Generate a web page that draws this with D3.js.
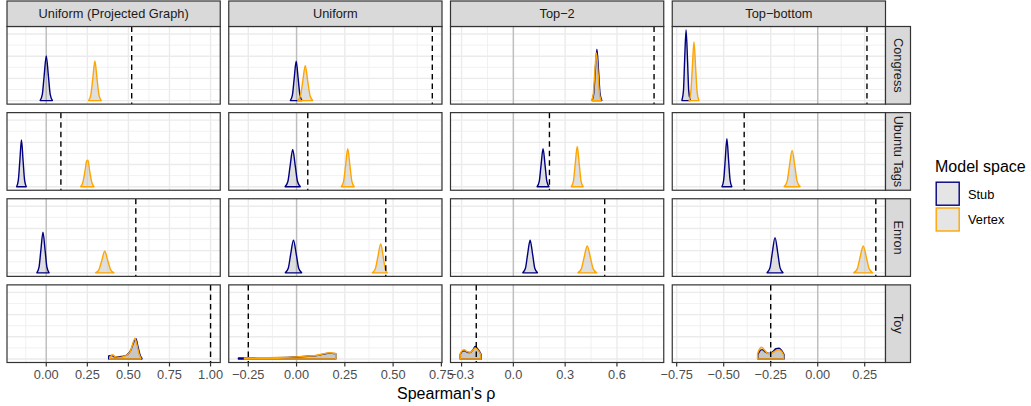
<!DOCTYPE html>
<html>
<head>
<meta charset="utf-8">
<script src="https://cdn.jsdelivr.net/npm/d3@7"></script>
<style>
  body { margin: 0; background: #fff; }
  svg text { font-family: "Liberation Sans", Arial, Helvetica, sans-serif; }
</style>
</head>
<body>
<div id="chart"></div>
<script>
// facet labels
var methods  = ["Uniform (Projected Graph)", "Uniform", "Top\u22122", "Top\u2212bottom"];
var datasets = ["Congress", "Ubuntu Tags", "Enron", "Toy"];
var models   = ["Stub", "Vertex"];

// observed value (dashed line), one row per dataset, one entry per method
var observed = [
  [0.52, 0.703, 0.815, 0.262],
  [0.089, 0.058, 0.209, -0.391],
  [0.545, 0.462, 0.529, 0.309],
  [1.0, -0.25, -0.215, -0.25]
];

// x ticks per method column
var xTicks = [
  [0, 0.25, 0.5, 0.75, 1],
  [-0.25, 0, 0.25, 0.5, 0.75],
  [-0.3, 0, 0.3, 0.6],
  [-0.75, -0.5, -0.25, 0, 0.25]
];
var xTickLabels = [
  ["0.00", "0.25", "0.50", "0.75", "1.00"],
  ["\u22120.25", "0.00", "0.25", "0.50", "0.75"],
  ["\u22120.3", "0.0", "0.3", "0.6"],
  ["\u22120.75", "\u22120.50", "\u22120.25", "0.00", "0.25"]
];
var yGrid = [0, 12.5, 25, 37.5, 50, 62.5, 75];

// density curves [rho, density], one list per method column
var congressStub = [
  [[-0.037,0.3],[-0.024,7],[-0.013,27.7],[0,50.3],[0.013,27.7],[0.024,7],[0.037,0.3]],
  [[-0.032,0.3],[-0.0215,6.2],[-0.0125,24.4],[-0.002,44.3],[0.0085,24.4],[0.0175,6.2],[0.028,0.3]],
  [[0.456,0.3],[0.466,8.1],[0.474,31.8],[0.484,57.9],[0.494,31.8],[0.502,8.1],[0.512,0.3]],
  [[-0.722,0.3],[-0.714,11.1],[-0.708,43.7],[-0.700,79.5],[-0.692,43.7],[-0.686,11.1],[-0.678,0.3]]
];
var congressVertex = [
  [[0.258,0.3],[0.271,6.2],[0.283,24.5],[0.296,44.6],[0.309,24.5],[0.321,6.2],[0.334,0.3]],
  [[0.007,0.3],[0.02,5.5],[0.032,21.7],[0.045,39.4],[0.058,21.7],[0.07,5.5],[0.083,0.3]],
  [[0.454,0.3],[0.463,7.6],[0.471,29.8],[0.481,54.1],[0.491,29.8],[0.499,7.6],[0.508,0.3]],
  [[-0.684,0.3],[-0.675,9.3],[-0.667,36.4],[-0.658,66.2],[-0.649,36.4],[-0.641,9.3],[-0.632,0.3]]
];
var ubuntuStub = [
  [[-0.180,0.3],[-0.170,7.4],[-0.161,29],[-0.151,52.7],[-0.141,29],[-0.132,7.4],[-0.122,0.3]],
  [[-0.059,0.3],[-0.045,5.9],[-0.0335,23.1],[-0.02,42],[-0.0065,23.1],[0.005,5.9],[0.019,0.3]],
  [[0.138,0.3],[0.15,6],[0.16,23.5],[0.172,42.8],[0.184,23.5],[0.194,6],[0.206,0.3]],
  [[-0.509,0.3],[-0.5,7.6],[-0.492,29.8],[-0.483,54.1],[-0.474,29.8],[-0.466,7.6],[-0.457,0.3]]
];
var ubuntuVertex = [
  [[0.21,0.3],[0.222,4.5],[0.236,18],[0.246,29],[0.254,30],[0.264,18],[0.278,4.5],[0.29,0.3]],
  [[0.232,0.3],[0.2435,6],[0.2535,23.5],[0.265,42.8],[0.2765,23.5],[0.2865,6],[0.298,0.3]],
  [[0.336,0.3],[0.348,6.4],[0.358,25],[0.370,45.4],[0.382,25],[0.392,6.4],[0.404,0.3]],
  [[-0.178,0.3],[-0.163,5.7],[-0.151,22.5],[-0.136,40.9],[-0.121,22.5],[-0.109,5.7],[-0.094,0.3]]
];
var enronStub = [
  [[-0.057,0.3],[-0.044,6.4],[-0.033,25.2],[-0.02,45.9],[-0.007,25.2],[0.004,6.4],[0.017,0.3]],
  [[-0.058,0.3],[-0.043,5.2],[-0.031,20.2],[-0.016,36.8],[-0.001,20.2],[0.011,5.2],[0.026,0.3]],
  [[0.055,0.3],[0.07,5.2],[0.082,20.2],[0.097,36.8],[0.112,20.2],[0.124,5.2],[0.139,0.3]],
  [[-0.269,0.3],[-0.254,5.6],[-0.242,21.8],[-0.227,39.7],[-0.212,21.8],[-0.2,5.6],[-0.185,0.3]]
];
var enronVertex = [
  [[0.301,0.3],[0.32,3.4],[0.337,13.4],[0.356,24.3],[0.375,13.4],[0.392,3.4],[0.411,0.3]],
  [[0.393,0.3],[0.408,4.6],[0.421,17.9],[0.436,32.6],[0.449,17.9],[0.459,4.6],[0.469,0.3]],
  [[0.374,0.3],[0.393,4.2],[0.409,16.7],[0.428,30.3],[0.447,16.7],[0.463,4.2],[0.482,0.3]],
  [[0.192,0.3],[0.2095,4.2],[0.2245,16.7],[0.242,30.3],[0.2595,16.7],[0.2745,4.2],[0.292,0.3]]
];
var toyStub = [
  [[0.380,3.4],[0.395,4.0],[0.41,2.8],[0.43,2.3],[0.46,2.8],[0.49,4.5],[0.515,10],[0.533,19],[0.546,22.7],[0.558,14],[0.572,4],[0.582,1]],
  [[-0.301,1.1],[-0.2,1.2],[-0.1,1.5],[0.0,2.3],[0.06,3.0],[0.1,3.6],[0.14,5.5],[0.17,6.6],[0.203,5.9]],
  [[-0.308,5],[-0.296,8.5],[-0.284,9.2],[-0.268,7.5],[-0.25,7.2],[-0.235,10],[-0.221,14],[-0.205,11],[-0.186,5]],
  [[-0.318,5],[-0.308,9],[-0.296,10.5],[-0.28,8],[-0.258,6.2],[-0.24,8],[-0.222,11.5],[-0.205,12.1],[-0.19,9],[-0.179,5]]
];
var toyVertex = [
  [[0.386,1.5],[0.403,4.8],[0.42,2.6],[0.45,1.8],[0.48,3.4],[0.51,8],[0.528,18],[0.54,23.5],[0.552,16],[0.566,5],[0.576,1]],
  [[-0.27,1.1],[-0.2,1.3],[-0.1,1.6],[0.0,2.4],[0.06,3.2],[0.1,3.9],[0.14,5.9],[0.168,7.0],[0.203,6.2]],
  [[-0.308,6],[-0.296,9.6],[-0.285,10.4],[-0.268,8.2],[-0.25,7.5],[-0.235,9.5],[-0.222,12.5],[-0.205,10],[-0.188,5]],
  [[-0.32,6],[-0.31,11],[-0.298,13.3],[-0.283,10],[-0.262,6],[-0.24,7],[-0.222,9.5],[-0.205,10.2],[-0.19,8],[-0.181,4]]
];

var stubRows   = [congressStub, ubuntuStub, enronStub, toyStub];
var vertexRows = [congressVertex, ubuntuVertex, enronVertex, toyVertex];

// ---- layout ----  (note: "top" is taken by window.top, so prefix everything)
var W = 1031, H = 406;
var padL = 7, padR = 885.5, padT = 26.5, padB = 362.5, gap = 8.5;
var pw = (padR - padL - 3 * gap) / 4;
var ph = (padB - padT - 3 * gap) / 4;
var colours = { Stub: "#000080", Vertex: "#FFA500" };

var svg = d3.select("#chart").append("svg")
  .attr("width", W).attr("height", H);

// x scales: free per column, trained on densities + vlines, 5% expansion like ggplot
var xScales = methods.map(function(m, c) {
  var vals = [0];
  for (var r = 0; r < datasets.length; r++) {
    stubRows[r][c].forEach(function(p) { vals.push(p[0]); });
    vertexRows[r][c].forEach(function(p) { vals.push(p[0]); });
    vals.push(observed[r][c]);
  }
  var ext = d3.extent(vals), pad = (ext[1] - ext[0]) * 0.05;
  return d3.scaleLinear().domain([ext[0] - pad, ext[1] + pad]).range([0, pw]);
});

// y scale shared by every panel
var ymax = d3.max(stubRows.concat(vertexRows), function(row) {
  return d3.max(row, function(pts) { return d3.max(pts, function(p) { return p[1]; }); });
});
var y = d3.scaleLinear().domain([-0.05 * ymax, 1.05 * ymax]).range([ph, 0]);

var defs = svg.append("defs");
defs.append("clipPath").attr("id", "pclip")
  .append("rect").attr("width", pw).attr("height", ph);

function minorTicks(ticks, dom) {
  var step = ticks[1] - ticks[0], out = [];
  for (var i = -1; i < ticks.length; i++) {
    var v = ticks[0] + step * (i + 0.5);
    if (v > dom[0] && v < dom[1]) out.push(v);
  }
  return out;
}

datasets.forEach(function(ds, r) {
  methods.forEach(function(m, c) {
    var x = xScales[c];
    var g = svg.append("g")
      .attr("transform", "translate(" + (padL + c * (pw + gap)) + "," + (padT + r * (ph + gap)) + ")");

    g.append("rect").attr("width", pw).attr("height", ph).attr("fill", "#fff");

    // minor grid
    var yMinor = yGrid.filter(function(v, i) { return i % 2 == 1; });
    var yMajor = yGrid.filter(function(v, i) { return i % 2 == 0; });
    g.selectAll(".xmin").data(minorTicks(xTicks[c], x.domain())).enter().append("line")
      .attr("x1", function(d) { return x(d); }).attr("x2", function(d) { return x(d); })
      .attr("y1", 0).attr("y2", ph)
      .attr("stroke", "#ebebeb").attr("stroke-width", 0.7);
    g.selectAll(".ymin").data(yMinor).enter().append("line")
      .attr("x1", 0).attr("x2", pw)
      .attr("y1", function(d) { return y(d); }).attr("y2", function(d) { return y(d); })
      .attr("stroke", "#ebebeb").attr("stroke-width", 0.7);
    // major grid
    g.selectAll(".xmaj").data(xTicks[c]).enter().append("line")
      .attr("x1", function(d) { return x(d); }).attr("x2", function(d) { return x(d); })
      .attr("y1", 0).attr("y2", ph)
      .attr("stroke", "#ebebeb").attr("stroke-width", 1.4);
    g.selectAll(".ymaj").data(yMajor).enter().append("line")
      .attr("x1", 0).attr("x2", pw)
      .attr("y1", function(d) { return y(d); }).attr("y2", function(d) { return y(d); })
      .attr("stroke", "#ebebeb").attr("stroke-width", 1.4);

    var inner = g.append("g").attr("clip-path", "url(#pclip)");

    // zero reference
    inner.append("line")
      .attr("x1", x(0)).attr("x2", x(0)).attr("y1", 0).attr("y2", ph)
      .attr("stroke", "#bebebe").attr("stroke-width", 1.4);

    var area = d3.area()
      .x(function(d) { return x(d[0]); })
      .y0(y(0))
      .y1(function(d) { return y(d[1]); })
      .curve(d3.curveMonotoneX);

    [["Stub", stubRows[r][c]], ["Vertex", vertexRows[r][c]]].forEach(function(s) {
      inner.append("path")
        .attr("d", area(s[1]) + "Z")
        .attr("fill", "#7f7f7f").attr("fill-opacity", 0.25)
        .attr("stroke", colours[s[0]]).attr("stroke-width", 1.4)
        .attr("stroke-linejoin", "round");
    });

    // observed value
    inner.append("line")
      .attr("x1", x(observed[r][c])).attr("x2", x(observed[r][c]))
      .attr("y1", 0).attr("y2", ph)
      .attr("stroke", "#000").attr("stroke-width", 1.4)
      .attr("stroke-dasharray", "5.5,4");

    g.append("rect").attr("width", pw).attr("height", ph)
      .attr("fill", "none").attr("stroke", "#333").attr("stroke-width", 1.2);

    // x axis on bottom row
    if (r == datasets.length - 1) {
      g.selectAll(".tk").data(xTicks[c]).enter().append("line")
        .attr("x1", function(d) { return x(d); }).attr("x2", function(d) { return x(d); })
        .attr("y1", ph).attr("y2", ph + 4)
        .attr("stroke", "#333").attr("stroke-width", 1.2);
      g.selectAll(".tlab").data(xTicks[c]).enter().append("text")
        .attr("x", function(d) { return x(d); })
        .attr("y", ph + 16.5)
        .attr("text-anchor", "middle")
        .attr("font-size", "12.8px").attr("fill", "#4d4d4d")
        .text(function(d, i) { return xTickLabels[c][i]; });
    }

    // column strips
    if (r == 0) {
      svg.append("rect")
        .attr("x", padL + c * (pw + gap)).attr("y", 1)
        .attr("width", pw).attr("height", padT - 1)
        .attr("fill", "#d9d9d9").attr("stroke", "#333").attr("stroke-width", 1.2);
      svg.append("text")
        .attr("x", padL + c * (pw + gap) + pw / 2).attr("y", 18.3)
        .attr("text-anchor", "middle").attr("font-size", "12.8px").attr("fill", "#1a1a1a")
        .text(m);
    }
  });

  // row strip
  var ry = padT + r * (ph + gap);
  svg.append("rect")
    .attr("x", padR).attr("y", ry).attr("width", 25).attr("height", ph)
    .attr("fill", "#d9d9d9").attr("stroke", "#333").attr("stroke-width", 1.2);
  svg.append("text")
    .attr("transform", "translate(" + (padR + 12.5) + "," + (ry + ph / 2) + ") rotate(90)")
    .attr("text-anchor", "middle").attr("dy", "0.35em")
    .attr("font-size", "12.8px").attr("fill", "#1a1a1a")
    .text(ds);
});

// axis title
svg.append("text")
  .attr("x", (padL + padR) / 2).attr("y", 399)
  .attr("text-anchor", "middle").attr("font-size", "16px").attr("fill", "#000")
  .text("Spearman's \u03c1");

// legend
var lg = svg.append("g").attr("transform", "translate(935,0)");
lg.append("text").attr("x", 0).attr("y", 172)
  .attr("font-size", "16px").attr("fill", "#000").text("Model space");
models.forEach(function(mod, i) {
  lg.append("rect")
    .attr("x", 1.2).attr("y", 182.2 + i * 25.8)
    .attr("width", 23).attr("height", 23)
    .attr("fill", "#7f7f7f").attr("fill-opacity", 0.2)
    .attr("stroke", colours[mod]).attr("stroke-width", 1.4);
  lg.append("text").attr("x", 33).attr("y", 198.5 + i * 25.8)
    .attr("font-size", "12.8px").attr("fill", "#000").text(mod);
});
</script>
</body>
</html>
